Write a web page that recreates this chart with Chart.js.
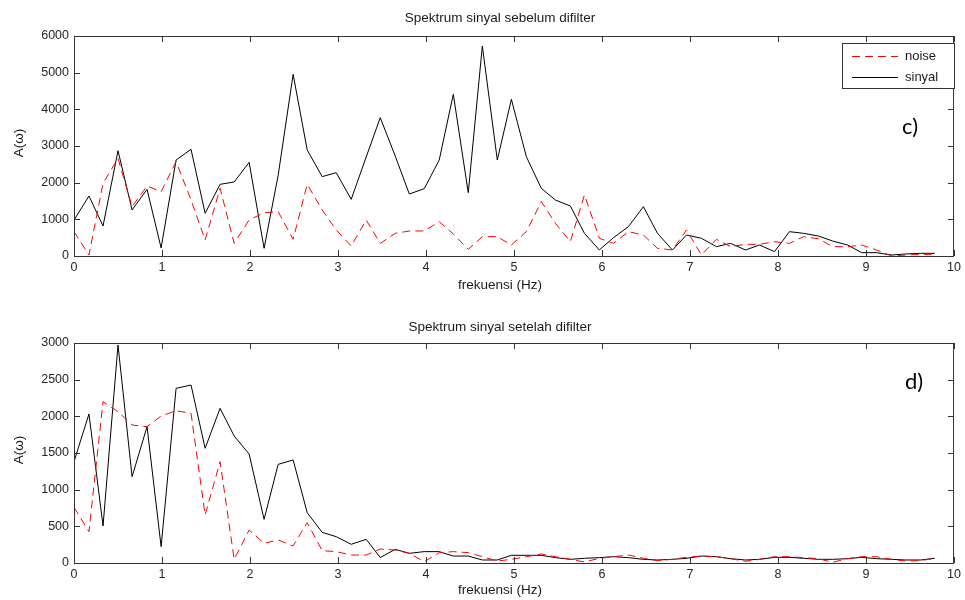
<!DOCTYPE html>
<html>
<head>
<meta charset="utf-8">
<script src="https://cdn.jsdelivr.net/npm/chart.js@4"></script>
<style>
  body { margin: 0; background: #fff; }
  .wrap { position: absolute; left: 0; width: 965px; height: 300px; }
  #w1 { top: 0; }
  #w2 { top: 300px; }
</style>
</head>
<body>
<div class="wrap" id="w1"><canvas id="chartTop" width="965" height="300"></canvas></div>
<div class="wrap" id="w2"><canvas id="chartBottom" width="965" height="300"></canvas></div>
<script>
// frekuensi (Hz)
const freq = [0, 0.17, 0.33, 0.50, 0.66, 0.83, 0.99, 1.16, 1.33, 1.49,
  1.66, 1.82, 1.99, 2.16, 2.32, 2.49, 2.65, 2.82, 2.98, 3.15,
  3.32, 3.48, 3.65, 3.81, 3.98, 4.15, 4.31, 4.48, 4.64, 4.81,
  4.97, 5.14, 5.31, 5.47, 5.64, 5.80, 5.97, 6.13, 6.30, 6.47,
  6.63, 6.80, 6.96, 7.13, 7.30, 7.46, 7.63, 7.79, 7.96, 8.13,
  8.29, 8.46, 8.62, 8.79, 8.95, 9.12, 9.29, 9.45, 9.62, 9.78];

// c) sebelum difilter
const noiseBefore = [664, 27, 1982, 2664, 1345, 1909, 1755, 2573, 1527, 436,
  1845, 345, 982, 1182, 1209, 455, 1955, 1255, 709, 273,
  982, 345, 618, 682, 682, 936, 600, 182, 527, 527,
  300, 664, 1482, 891, 391, 1664, 482, 345, 664, 573,
  209, 164, 709, 27, 455, 255, 318, 318, 391, 345,
  527, 470, 255, 255, 300, 164, 0, 27, 45, 45];
const sinyalBefore = [980, 1636, 818, 2873, 1255, 1818, 220, 2618, 2909, 1164,
  1955, 2018, 2555, 210, 2200, 4955, 2890, 2164, 2273, 1545,
  2700, 3773, 2727, 1691, 1836, 2618, 4409, 1727, 5727, 2618,
  4273, 2709, 1845, 1527, 1364, 618, 164, 500, 800, 1345,
  618, 164, 573, 482, 255, 345, 164, 300, 118, 664,
  618, 545, 409, 300, 91, 91, 27, 55, 73, 73];

// d) setelah difilter
const noiseAfter = [759, 427, 2200, 2064, 1882, 1859, 2005, 2077, 2041, 655,
  1382, 50, 450, 268, 314, 232, 550, 168, 155, 109,
  109, 190, 177, 132, 18, 141, 155, 141, 86, 27,
  50, 86, 123, 86, 50, 14, 64, 86, 109, 64,
  32, 50, 77, 95, 86, 59, 23, 50, 86, 86,
  73, 59, 9, 59, 86, 86, 50, 27, 32, 64];
const sinyalAfter = [1382, 2032, 505, 2973, 1177, 1859, 223, 2382, 2427, 1564,
  2109, 1732, 1486, 595, 1345, 1405, 686, 418, 359, 255,
  323, 75, 186, 132, 155, 155, 95, 95, 41, 41,
  105, 105, 105, 73, 50, 64, 73, 86, 73, 50,
  41, 50, 64, 95, 86, 59, 41, 50, 77, 77,
  64, 50, 50, 59, 77, 59, 50, 41, 41, 64];

const seriesNames = ['noise', 'sinyal'];
const txtFont = '"Liberation Sans", Arial, sans-serif';
const axisColor = '#333333';

function toPoints(ys) {
  return ys.map((y, i) => ({ x: freq[i], y: y }));
}

// kotak sumbu ala MATLAB, tick ke dalam, judul, label, legenda
const framePlugin = {
  id: 'frame',
  afterDraw(chart, args, opts) {
    const ctx = chart.ctx;
    const a = chart.chartArea;
    const xs = chart.scales.x, ys = chart.scales.y;
    ctx.save();
    ctx.strokeStyle = axisColor;
    ctx.lineWidth = 1;
    ctx.strokeRect(a.left + 0.5, a.top + 0.5, a.right - a.left - 1, a.bottom - a.top);
    ctx.beginPath();
    xs.ticks.forEach(t => {
      const px = Math.round(xs.getPixelForValue(t.value)) + 0.5;
      ctx.moveTo(px, a.bottom); ctx.lineTo(px, a.bottom - 6);
      ctx.moveTo(px, a.top); ctx.lineTo(px, a.top + 6);
    });
    ys.ticks.forEach(t => {
      const py = Math.round(ys.getPixelForValue(t.value)) + 0.5;
      ctx.moveTo(a.left, py); ctx.lineTo(a.left + 6, py);
      ctx.moveTo(a.right, py); ctx.lineTo(a.right - 6, py);
    });
    ctx.stroke();

    ctx.fillStyle = '#1a1a1a';
    ctx.font = '13.5px ' + txtFont;
    ctx.textAlign = 'center';
    ctx.textBaseline = 'middle';
    ctx.fillText(opts.title, 500, opts.titleY);
    ctx.fillText('frekuensi (Hz)', 500, opts.xLabelY);

    ctx.save();
    ctx.translate(19, (a.top + a.bottom) / 2 - 3);
    ctx.rotate(-Math.PI / 2);
    ctx.fillText('A(ω)', 0, 0);
    ctx.restore();

    ctx.fillStyle = '#000';
    ctx.font = '22px Lato, "Open Sans", sans-serif';
    ctx.fillText(opts.letter, opts.letterX, opts.letterY);

    if (opts.legend) {
      const L = opts.legend;
      ctx.fillStyle = '#fff';
      ctx.fillRect(L.x, L.y, L.w, L.h);
      ctx.strokeStyle = axisColor;
      ctx.strokeRect(L.x + 0.5, L.y + 0.5, L.w, L.h);
      const sets = chart.data.datasets;
      sets.forEach((ds, k) => {
        const ly = L.y + 13.5 + k * 21;
        ctx.beginPath();
        ctx.strokeStyle = ds.borderColor;
        ctx.setLineDash(ds.borderDash || []);
        ctx.moveTo(L.x + 10, ly);
        ctx.lineTo(L.x + 56, ly);
        ctx.stroke();
        ctx.setLineDash([]);
        ctx.fillStyle = '#1a1a1a';
        ctx.font = '13px ' + txtFont;
        ctx.textAlign = 'left';
        ctx.fillText(ds.label, L.x + 63, ly);
      });
    }
    ctx.restore();
  }
};

function makeChart(id, noise, sinyal, yMax, yStep, padTop, xAxisH, frameOpts) {
  return new Chart(document.getElementById(id), {
    type: 'line',
    data: {
      datasets: [
        { label: seriesNames[0], data: toPoints(noise), borderColor: '#ff0000', borderWidth: 1,
          borderDash: [8, 5], pointRadius: 0, tension: 0, fill: false },
        { label: seriesNames[1], data: toPoints(sinyal), borderColor: '#000000', borderWidth: 1,
          pointRadius: 0, tension: 0, fill: false }
      ]
    },
    options: {
      responsive: false,
      animation: false,
      layout: { padding: { left: 0, right: 8, top: padTop, bottom: 0 } },
      scales: {
        x: {
          type: 'linear', min: 0, max: 10,
          grid: { display: false, drawTicks: false },
          border: { display: false },
          ticks: { stepSize: 1, padding: 4, color: '#262626', font: { family: txtFont, size: 12.5 },
            callback: v => String(v) },
          afterFit: s => { s.height = xAxisH; }
        },
        y: {
          min: 0, max: yMax,
          grid: { display: false, drawTicks: false },
          border: { display: false },
          ticks: { stepSize: yStep, padding: 5, color: '#262626', font: { family: txtFont, size: 12.5 },
            callback: v => String(v) },
          afterFit: s => { s.width = 74; }
        }
      },
      plugins: {
        legend: { display: false },
        tooltip: { enabled: false },
        frame: frameOpts
      }
    },
    plugins: [framePlugin]
  });
}

makeChart('chartTop', noiseBefore, sinyalBefore, 6000, 1000, 36, 44, {
  title: 'Spektrum sinyal sebelum difilter', titleY: 18, xLabelY: 285,
  letter: 'c)', letterX: 910, letterY: 127,
  legend: { x: 842, y: 43, w: 112, h: 45 }
});
makeChart('chartBottom', noiseAfter, sinyalAfter, 3000, 500, 43, 37, {
  title: 'Spektrum sinyal setelah difilter', titleY: 27, xLabelY: 290,
  letter: 'd)', letterX: 914, letterY: 82,
  legend: null
});
</script>
</body>
</html>
